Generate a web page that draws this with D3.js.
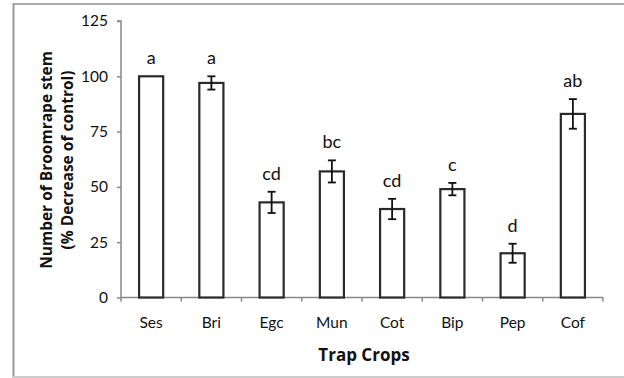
<!DOCTYPE html>
<html>
<head>
<meta charset="utf-8">
<script src="https://cdn.jsdelivr.net/npm/d3@7"></script>
<style>
  body { margin: 0; background: #fff; }
  svg { display: block; font-family: "Open Sans", "Liberation Sans", sans-serif; }
</style>
</head>
<body>
<div id="chart"></div>
<script>
// trap crops and their broomrape reduction (% of control)
const crops = ["Ses", "Bri", "Egc", "Mun", "Cot", "Bip", "Pep", "Cof"];
const values = [100, 97, 43, 57, 40, 49, 20, 83];
const errors = [0, 3, 4.8, 5, 4.6, 2.8, 4.3, 6.7];
const letters = ["a", "a", "cd", "bc", "cd", "c", "d", "ab"];
const yTicks = [0, 25, 50, 75, 100, 125];

const W = 624, H = 378;
const margin = { left: 121, right: 21, top: 21, bottom: 80.5 };
const labelFont = "Lato, 'Open Sans', sans-serif";

const svg = d3.select("#chart").append("svg")
  .attr("width", W).attr("height", H);

// outer frame (picture border)
svg.append("line").attr("x1", 13).attr("x2", W).attr("y1", 4).attr("y2", 4)
  .attr("stroke", "#aaa").attr("stroke-width", 2);
svg.append("line").attr("x1", 13.5).attr("x2", 13.5).attr("y1", 3).attr("y2", H)
  .attr("stroke", "#999").attr("stroke-width", 2);
svg.append("line").attr("x1", 13).attr("x2", W).attr("y1", 377).attr("y2", 377)
  .attr("stroke", "#ccc").attr("stroke-width", 2);

const x = d3.scaleBand().domain(crops)
  .range([margin.left, W - margin.right])
  .paddingInner(0.6).paddingOuter(0.3);
const step = x.step();

const y = d3.scaleLinear().domain([0, 125])
  .range([H - margin.bottom, margin.top]);

// y axis
const yAxis = svg.append("g")
  .attr("transform", `translate(${margin.left},0)`)
  .call(d3.axisLeft(y).tickValues(yTicks).tickSize(4).tickPadding(9));
yAxis.select(".domain").attr("stroke", "#888").attr("stroke-width", 1.5)
  .attr("d", `M-4,${y(125)}H0V${y(0)}`);
yAxis.selectAll(".tick line").attr("stroke", "#888").attr("stroke-width", 1.5);
yAxis.selectAll(".tick text").attr("font-size", 15.5).attr("fill", "#111")
  .style("font-family", labelFont);

// x axis: ticks between categories
const xg = svg.append("g");
xg.append("line")
  .attr("x1", margin.left).attr("x2", W - margin.right)
  .attr("y1", y(0)).attr("y2", y(0))
  .attr("stroke", "#888").attr("stroke-width", 1.5);
xg.selectAll("line.tk").data(d3.range(crops.length + 1)).enter()
  .append("line").attr("class", "tk")
  .attr("x1", i => margin.left + i * step).attr("x2", i => margin.left + i * step)
  .attr("y1", y(0)).attr("y2", y(0) + 4)
  .attr("stroke", "#888").attr("stroke-width", 1.5);
xg.selectAll("text").data(crops).enter().append("text")
  .attr("x", d => x(d) + x.bandwidth() / 2)
  .attr("y", y(0) + 30)
  .attr("text-anchor", "middle")
  .attr("font-size", 15.5).attr("fill", "#111")
  .style("font-family", labelFont)
  .text(d => d);

// bars
svg.selectAll("rect.bar").data(crops).enter().append("rect")
  .attr("class", "bar")
  .attr("x", d => x(d))
  .attr("y", (d, i) => y(values[i]))
  .attr("width", x.bandwidth())
  .attr("height", (d, i) => y(0) - y(values[i]))
  .attr("fill", "#fff").attr("stroke", "#2a2a2a").attr("stroke-width", 2.2);

// error bars
const eb = svg.selectAll("g.err").data(crops).enter().append("g").attr("class", "err")
  .attr("transform", d => `translate(${x(d) + x.bandwidth() / 2},0)`);
eb.filter((d, i) => errors[i] > 0).each(function (d) {
  const i = crops.indexOf(d);
  const g = d3.select(this);
  const top = y(values[i] + errors[i]), bot = y(values[i] - errors[i]);
  g.append("line").attr("y1", top).attr("y2", bot);
  g.append("line").attr("x1", -4).attr("x2", 4).attr("y1", top).attr("y2", top);
  g.append("line").attr("x1", -4).attr("x2", 4).attr("y1", bot).attr("y2", bot);
});
eb.selectAll("line").attr("stroke", "#111").attr("stroke-width", 1.8);

// significance letters
svg.selectAll("text.let").data(crops).enter().append("text")
  .attr("class", "let")
  .attr("x", d => x(d) + x.bandwidth() / 2)
  .attr("y", (d, i) => y(values[i] + errors[i]) - 12)
  .attr("text-anchor", "middle")
  .attr("font-size", 18).attr("fill", "#111")
  .style("font-family", labelFont)
  .text((d, i) => letters[i]);

// axis titles
const yt = svg.append("text")
  .attr("transform", "translate(52,160) rotate(-90)")
  .attr("text-anchor", "middle")
  .attr("font-size", 15.5).attr("font-weight", "bold").attr("fill", "#111");
yt.append("tspan").attr("x", 0).attr("dy", 0).text("Number of Broomrape stem");
yt.append("tspan").attr("x", 0).attr("dy", 21).text("(% Decrease of control)");

svg.append("text")
  .attr("x", 364).attr("y", 361)
  .attr("text-anchor", "middle")
  .attr("font-size", 17).attr("font-weight", "bold").attr("fill", "#111")
  .text("Trap Crops");
</script>
</body>
</html>
